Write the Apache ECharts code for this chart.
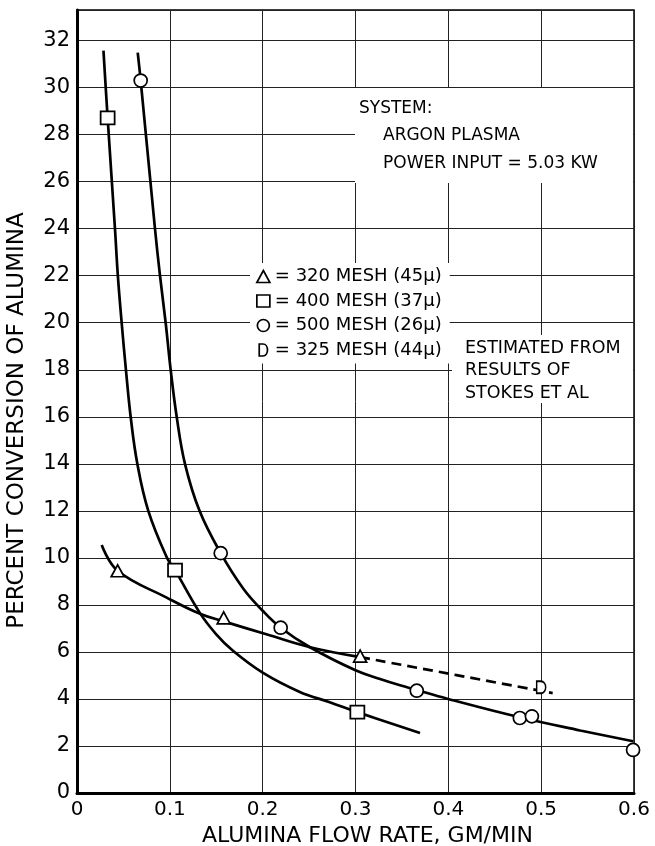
<!DOCTYPE html>
<html>
<head>
<meta charset="utf-8">
<script src="https://cdn.jsdelivr.net/npm/echarts@6/dist/echarts.min.js"></script>
<style>
  html, body { margin: 0; padding: 0; background: #fff; }
  #chart { width: 655px; height: 846px; }
</style>
</head>
<body>
<div id="chart"></div>
<script>
// values: [flow rate gm/min, percent conversion]
const mesh320Curve = [[0.0266, 10.55], [0.0438, 9.45], [0.0966, 8.31], [0.1325, 7.62], [0.158, 7.30], [0.204, 6.75], [0.251, 6.20], [0.305, 5.78]]
const mesh320Points = [[0.0438, 9.45], [0.158, 7.45], [0.305, 5.82]]

const mesh325Dashed = [[0.305, 5.78], [0.5124, 4.25]]
const mesh325Points = [[0.500, 4.50]]

const mesh400Curve = [[0.0285, 31.57], [0.033, 28.71], [0.0409, 24.0], [0.0440, 22.0], [0.0481, 20.0], [0.0527, 18.0], [0.0578, 16.0], [0.065, 14.0], [0.0768, 12.0], [0.097, 10.0], [0.1056, 9.48], [0.1325, 7.65], [0.150, 6.75], [0.168, 6.05], [0.200, 5.12], [0.240, 4.30], [0.273, 3.85], [0.302, 3.44], [0.3695, 2.55]]
const mesh400Points = [[0.033, 28.71], [0.1056, 9.48], [0.302, 3.44]]

const mesh500Curve = [[0.0654, 31.49], [0.0686, 30.3], [0.084, 24.0], [0.0894, 22.0], [0.0955, 20.0], [0.1009, 18.0], [0.1074, 16.0], [0.1163, 14.0], [0.132, 12.0], [0.1548, 10.2], [0.179, 8.70], [0.200, 7.75], [0.2194, 7.03], [0.251, 6.20], [0.300, 5.22], [0.3265, 4.85], [0.348, 4.58], [0.366, 4.38], [0.398, 4.02], [0.477, 3.22], [0.542, 2.66], [0.599, 2.20]]
const mesh500Points = [[0.0686, 30.3], [0.1548, 10.2], [0.2194, 7.03], [0.366, 4.35], [0.477, 3.19], [0.490, 3.26], [0.599, 1.83]]

const legendNames = ['320 MESH (45μ)', '400 MESH (37μ)', '500 MESH (26μ)', '325 MESH (44μ)']
const systemLines = ['SYSTEM:', 'ARGON PLASMA', 'POWER INPUT = 5.03 KW']
const stokesLines = ['ESTIMATED FROM', 'RESULTS OF', 'STOKES ET AL']

const font = 'DejaVu Sans'
const dSymbol = 'path://M0,0H5C13,0 13,16 5,16H0Z'
const markerStyle = { color: '#fff', borderColor: '#000', borderWidth: 1.7, opacity: 1 }
const curveStyle = { color: '#000', width: 2.7 }

function curve (name, data, dashed) {
  return {
    type: 'line',
    name: name,
    data: data,
    smooth: 0.4,
    symbol: 'none',
    silent: true,
    z: 3,
    lineStyle: dashed ? { color: '#000', width: 2.7, type: [10, 6] } : curveStyle
  }
}

function markers (name, data, symbol, size) {
  return {
    type: 'scatter',
    name: name,
    data: data,
    symbol: symbol,
    symbolSize: size,
    itemStyle: markerStyle,
    z: 6
  }
}

let chart = echarts.init(document.getElementById('chart'))

let textLines = []
systemLines.forEach((t, i) => {
  textLines.push({
    type: 'text', left: i === 0 ? 359 : 383, top: 100 + i * 27.5, z: 11,
    style: { text: t, fontFamily: font, fontSize: 17, fill: '#000' }
  })
})
stokesLines.forEach((t, i) => {
  textLines.push({
    type: 'text', left: 465, top: 339 + i * 22.5, z: 11,
    style: { text: t, fontFamily: font, fontSize: 17.5, fill: '#000' }
  })
})

let option = {
  animation: false,
  backgroundColor: '#fff',
  grid: {
    left: 77, right: 21, top: 10, bottom: 53,
    outerBoundsMode: 'none',
    show: true, borderColor: '#000', borderWidth: 1.5
  },
  xAxis: {
    type: 'value',
    min: 0, max: 0.6, interval: 0.1,
    name: 'ALUMINA FLOW RATE, GM/MIN',
    nameLocation: 'middle',
    nameGap: 31,
    nameTextStyle: { fontFamily: font, fontSize: 22, color: '#000', padding: [0, 0, 0, 24] },
    axisLine: { show: true, onZero: false, lineStyle: { color: '#000', width: 3 } },
    axisTick: { show: false },
    axisLabel: { fontFamily: font, fontSize: 20, color: '#000', margin: 7 },
    splitLine: { show: true, lineStyle: { color: '#222', width: 1 } }
  },
  yAxis: {
    type: 'value',
    min: 0, max: 33.3, interval: 2,
    name: 'PERCENT CONVERSION OF ALUMINA',
    nameLocation: 'middle',
    nameGap: 48,
    nameTextStyle: { fontFamily: font, fontSize: 23, color: '#000', padding: [0, 38, 0, 0] },
    axisLine: { show: true, onZero: false, lineStyle: { color: '#000', width: 3 } },
    axisTick: { show: false },
    axisLabel: { fontFamily: font, fontSize: 21, color: '#000', margin: 7, showMaxLabel: false },
    splitLine: { show: true, lineStyle: { color: '#222', width: 1 } }
  },
  legend: {
    orient: 'vertical',
    left: 250,
    top: 263,
    backgroundColor: '#fff',
    padding: [4, 8, 4, 6],
    itemWidth: 13,
    itemHeight: 12,
    itemGap: 5.5,
    selectedMode: false,
    z: 10,
    formatter: '= {name}',
    itemStyle: markerStyle,
    textStyle: { fontFamily: font, fontSize: 18, color: '#000', lineHeight: 19 },
    data: [
      { name: legendNames[0], icon: 'triangle' },
      { name: legendNames[1], icon: 'rect' },
      { name: legendNames[2], icon: 'circle' },
      { name: legendNames[3], icon: dSymbol }
    ]
  },
  graphic: [
    { type: 'rect', left: 355, top: 88, z: 10, shape: { width: 278, height: 95 }, style: { fill: '#fff' } },
    { type: 'rect', left: 452, top: 335, z: 10, shape: { width: 181, height: 68 }, style: { fill: '#fff' } }
  ].concat(textLines),
  series: [
    curve('320 curve', mesh320Curve, false),
    curve('325 curve', mesh325Dashed, true),
    curve('400 curve', mesh400Curve, false),
    curve('500 curve', mesh500Curve, false),
    markers(legendNames[0], mesh320Points, 'triangle', [13, 12]),
    markers(legendNames[1], mesh400Points, 'rect', [14, 13]),
    markers(legendNames[2], mesh500Points, 'circle', 13),
    markers(legendNames[3], mesh325Points, dSymbol, [9, 12])
  ]
}

chart.setOption(option)
</script>
</body>
</html>
